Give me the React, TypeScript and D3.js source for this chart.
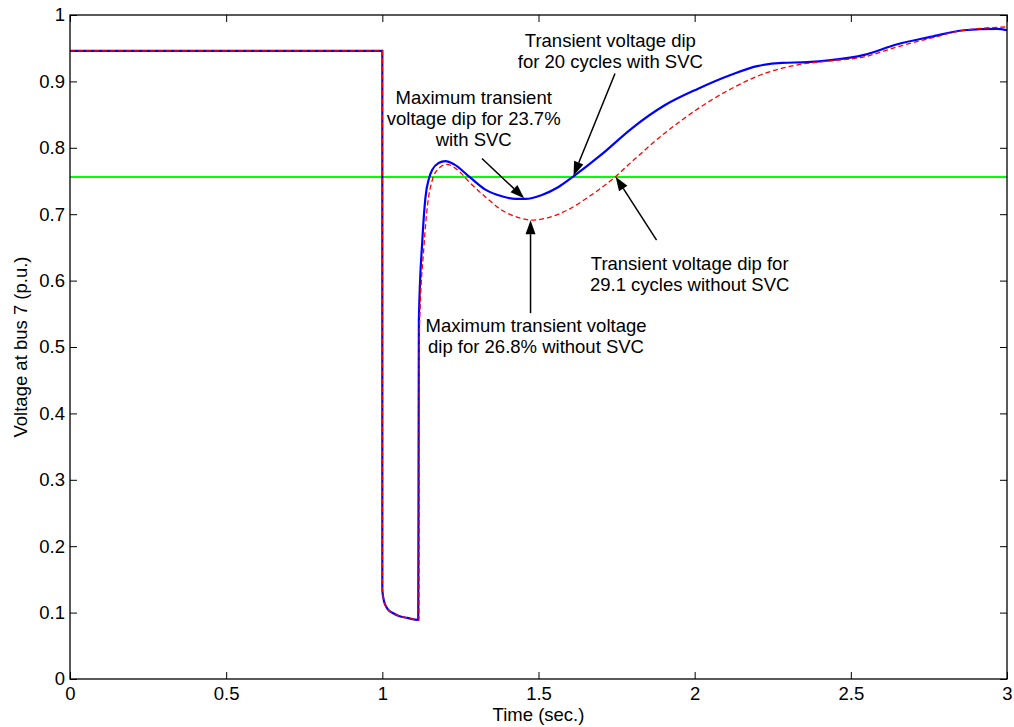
import React, { useRef, useEffect } from 'react';
import * as d3 from 'd3';

// time (s) and bus 7 voltage (p.u.) with SVC
const tWith = [0, 1.0, 1.0, 1.005, 1.016, 1.035, 1.053, 1.08, 1.115, 1.117, 1.128, 1.138, 1.15, 1.16, 1.18, 1.202, 1.23, 1.277, 1.33, 1.383, 1.426, 1.458, 1.511, 1.564, 1.612, 1.702, 1.798, 1.904, 2.011, 2.117, 2.2, 2.28, 2.36, 2.436, 2.543, 2.649, 2.755, 2.862, 2.968, 3.0];
const vWith = [0.946, 0.946, 0.134, 0.118, 0.106, 0.099, 0.095, 0.092, 0.089, 0.541, 0.66, 0.725, 0.755, 0.767, 0.777, 0.780, 0.775, 0.757, 0.737, 0.727, 0.723, 0.723, 0.729, 0.741, 0.757, 0.790, 0.829, 0.864, 0.889, 0.910, 0.923, 0.928, 0.929, 0.932, 0.940, 0.956, 0.967, 0.977, 0.979, 0.977];

// without SVC
const tWithout = [0, 1.0, 1.0, 1.005, 1.016, 1.035, 1.053, 1.08, 1.117, 1.119, 1.133, 1.145, 1.158, 1.17, 1.207, 1.24, 1.277, 1.33, 1.383, 1.436, 1.479, 1.532, 1.596, 1.66, 1.745, 1.787, 1.904, 2.011, 2.117, 2.224, 2.33, 2.436, 2.543, 2.649, 2.755, 2.862, 3.0];
const vWithout = [0.946, 0.946, 0.134, 0.118, 0.106, 0.099, 0.095, 0.092, 0.089, 0.53, 0.65, 0.715, 0.748, 0.763, 0.775, 0.767, 0.749, 0.726, 0.706, 0.695, 0.691, 0.695, 0.707, 0.726, 0.756, 0.774, 0.822, 0.859, 0.889, 0.912, 0.925, 0.931, 0.937, 0.952, 0.965, 0.977, 0.982];

const threshold = 0.756;

const xTicks = [0, 0.5, 1, 1.5, 2, 2.5, 3];
const yTicks = [0, 0.1, 0.2, 0.3, 0.4, 0.5, 0.6, 0.7, 0.8, 0.9, 1];

// annotations: text lines, label anchor (t, v), arrow from (t, v) to (t, v)
const noteLines = [
  ['Transient voltage dip', 'for 20 cycles with SVC'],
  ['Maximum transient', 'voltage dip for 23.7%', 'with SVC'],
  ['Transient voltage dip for', '29.1 cycles without SVC'],
  ['Maximum transient voltage', 'dip for 26.8% without SVC'],
];
const noteAt = [[1.73, 0.952], [1.2925, 0.866], [1.984, 0.616], [1.492, 0.522]];
const arrowFrom = [[1.745, 0.912], [1.319, 0.784], [1.878, 0.661], [1.4745, 0.551]];
const arrowTo = [[1.612, 0.758], [1.454, 0.724], [1.747, 0.7565], [1.4745, 0.691]];

const App = () => {
  const ref = useRef(null);

  useEffect(() => {
    const width = 1014, height = 727;
    const margin = { top: 15, right: 7, bottom: 48, left: 70 };
    const font = '"Liberation Sans", Arial, sans-serif';
    const fs = 18.5;

    const svg = d3.select(ref.current);
    svg.selectAll('*').remove();
    svg.attr('width', width).attr('height', height);

    const x = d3.scaleLinear([0, 3], [margin.left, width - margin.right]);
    const y = d3.scaleLinear([0, 1], [height - margin.bottom, margin.top]);

    const line = d3.line().x(d => x(d[0])).y(d => y(d[1])).curve(d3.curveMonotoneX);

    // green threshold
    svg.append('line')
      .attr('x1', x(0)).attr('x2', x(3))
      .attr('y1', y(threshold)).attr('y2', y(threshold))
      .attr('stroke', '#00ff00').attr('stroke-width', 2);

    svg.append('path')
      .attr('d', line(tWith.map((t, i) => [t, vWith[i]])))
      .attr('fill', 'none').attr('stroke', '#0000ff').attr('stroke-width', 2.2);

    svg.append('path')
      .attr('d', line(tWithout.map((t, i) => [t, vWithout[i]])))
      .attr('fill', 'none').attr('stroke', '#ff0000').attr('stroke-width', 1.3)
      .attr('stroke-dasharray', '5,3');

    // axes, ticks inward on all sides
    const styleAxis = g => {
      g.select('.domain').remove();
      g.selectAll('line').attr('stroke', '#000').attr('stroke-width', 1);
      g.selectAll('text').attr('font-family', font).attr('font-size', fs).attr('fill', '#000');
    };
    svg.append('g').attr('transform', `translate(0,${y(0)})`)
      .call(d3.axisBottom(x).tickValues(xTicks).tickSize(-7).tickPadding(8).tickFormat(d3.format('')))
      .call(styleAxis);
    svg.append('g').attr('transform', `translate(0,${y(1)})`)
      .call(d3.axisTop(x).tickValues(xTicks).tickSize(-7).tickFormat(() => ''))
      .call(styleAxis);
    svg.append('g').attr('transform', `translate(${x(0)},0)`)
      .call(d3.axisLeft(y).tickValues(yTicks).tickSize(-7).tickPadding(5).tickFormat(d3.format('')))
      .call(styleAxis);
    svg.append('g').attr('transform', `translate(${x(3)},0)`)
      .call(d3.axisRight(y).tickValues(yTicks).tickSize(-7).tickFormat(() => ''))
      .call(styleAxis);

    svg.append('rect')
      .attr('x', x(0)).attr('y', y(1))
      .attr('width', x(3) - x(0)).attr('height', y(0) - y(1))
      .attr('fill', 'none').attr('stroke', '#000').attr('stroke-width', 1.3);

    svg.append('text')
      .attr('x', (x(0) + x(3)) / 2).attr('y', height - 6)
      .attr('text-anchor', 'middle')
      .attr('font-family', font).attr('font-size', fs)
      .text('Time (sec.)');

    svg.append('text')
      .attr('transform', `translate(27,${(y(0) + y(1)) / 2}) rotate(-90)`)
      .attr('text-anchor', 'middle')
      .attr('font-family', font).attr('font-size', fs)
      .text('Voltage at bus 7 (p.u.)');

    // annotations
    noteLines.forEach((lines, k) => {
      const tx = svg.append('text')
        .attr('text-anchor', 'middle')
        .attr('font-family', font).attr('font-size', fs);
      lines.forEach((s, j) => {
        tx.append('tspan')
          .attr('x', x(noteAt[k][0]))
          .attr('y', y(noteAt[k][1]) + j * 21)
          .text(s);
      });

      const x0 = x(arrowFrom[k][0]), y0 = y(arrowFrom[k][1]);
      const x1 = x(arrowTo[k][0]), y1 = y(arrowTo[k][1]);
      const a = Math.atan2(y1 - y0, x1 - x0);
      const len = 14, hw = 5;
      const bx = x1 - len * Math.cos(a), by = y1 - len * Math.sin(a);
      svg.append('line')
        .attr('x1', x0).attr('y1', y0).attr('x2', bx).attr('y2', by)
        .attr('stroke', '#000').attr('stroke-width', 1.5);
      svg.append('polygon')
        .attr('points', [
          [x1, y1],
          [bx + hw * Math.sin(a), by - hw * Math.cos(a)],
          [bx - hw * Math.sin(a), by + hw * Math.cos(a)],
        ].map(p => p.join(',')).join(' '))
        .attr('fill', '#000');
    });
  }, []);

  return (
    <div>
      <svg ref={ref} style={{ position: 'absolute', left: 0, top: 0, background: '#fff' }}></svg>
    </div>
  );
};

export default App;
